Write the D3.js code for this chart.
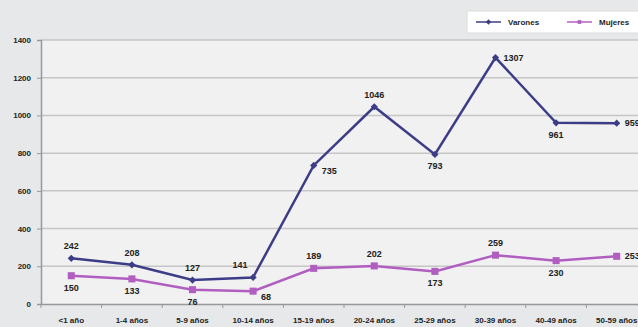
<!DOCTYPE html>
<html>
<head>
<meta charset="utf-8">
<script src="https://cdn.jsdelivr.net/npm/d3@7"></script>
<style>
  body { margin: 0; background: #e8e9ea; }
  svg text { font-family: "Liberation Sans", Arial, sans-serif; font-weight: bold; fill: #222; }
</style>
</head>
<body>
<div id="chart"></div>
<script>
// data
const categories = ["<1 año", "1-4 años", "5-9 años", "10-14 años", "15-19 años",
  "20-24 años", "25-29 años", "30-39 años", "40-49 años", "50-59 años"];
const varones = [242, 208, 127, 141, 735, 1046, 793, 1307, 961, 959];
const mujeres = [150, 133, 76, 68, 189, 202, 173, 259, 230, 253];
const yTicks = [0, 200, 400, 600, 800, 1000, 1200, 1400];
// where each label sits: a = above, la = left-above, b = below, r = right, rb = right-below
const varonesPos = ["a", "a", "a", "la", "rb", "a", "b", "r", "b", "r"];
const mujeresPos = ["b", "b", "b", "rb", "a", "a", "b", "a", "b", "r"];

const W = 638, H = 327;
const margin = { left: 41, top: 40, right: -9, bottom: 23 };
const innerW = W - margin.left - margin.right,
  innerH = H - margin.top - margin.bottom;

const svg = d3.select("#chart").append("svg")
  .attr("width", W).attr("height", H);

svg.append("rect").attr("width", W).attr("height", H).attr("fill", "#e7e8e9");

const g = svg.append("g").attr("transform", `translate(${margin.left},${margin.top})`);

g.append("rect").attr("width", innerW).attr("height", innerH).attr("fill", "#f1f1f1");

const x = d3.scaleBand().domain(categories).range([0, innerW]);
const y = d3.scaleLinear().domain([0, 1400]).range([innerH, 0]);

// gridlines
g.selectAll(".grid").data(yTicks.slice(1)).join("line")
  .attr("x1", 0).attr("x2", innerW)
  .attr("y1", d => y(d)).attr("y2", d => y(d))
  .attr("stroke", "#c6c6c6").attr("stroke-width", 1.5);

// y axis
const yAxis = g.append("g")
  .call(d3.axisLeft(y).tickValues(yTicks).tickFormat(d3.format("d")).tickSize(4).tickPadding(6));
yAxis.select(".domain").attr("stroke", "#999").attr("stroke-width", 1.5);
yAxis.selectAll(".tick line").attr("stroke", "#999");
yAxis.selectAll("text").style("font-size", "8px");

// x axis, ticks on the category boundaries
const xAxis = g.append("g").attr("transform", `translate(0,${innerH})`)
  .call(d3.axisBottom(x).tickSize(0).tickPadding(13));
xAxis.select(".domain").attr("stroke", "#999").attr("stroke-width", 1.5);
xAxis.selectAll("text").style("font-size", "8px");
g.selectAll(".xtick").data(categories).join("line")
  .attr("x1", d => x(d)).attr("x2", d => x(d))
  .attr("y1", innerH).attr("y2", innerH + 4)
  .attr("stroke", "#999");

const cx = d => x(d) + x.bandwidth() / 2;

const line = d3.line()
  .x((d, i) => cx(categories[i]))
  .y(d => y(d));

function drawSeries(values, color, rotate, symSize, pos) {
  g.append("path").datum(values)
    .attr("fill", "none").attr("stroke", color)
    .attr("stroke-width", 2.5).attr("d", line);

  g.selectAll(null).data(values).join("path")
    .attr("transform", (d, i) => `translate(${cx(categories[i])},${y(d)}) rotate(${rotate})`)
    .attr("d", d3.symbol().type(d3.symbolSquare).size(symSize))
    .attr("fill", color);

  g.selectAll(null).data(values).join("text")
    .attr("x", (d, i) => {
      const p = pos[i];
      if (p === "r" || p === "rb") return cx(categories[i]) + 8;
      if (p === "la") return cx(categories[i]) - 13;
      return cx(categories[i]);
    })
    .attr("y", (d, i) => {
      const p = pos[i];
      const base = y(d);
      if (p === "a" || p === "la") return base - 9;
      if (p === "b") return base + 15;
      if (p === "rb") return base + 9;
      return base + 3;
    })
    .attr("text-anchor", (d, i) => (pos[i] === "r" || pos[i] === "rb") ? "start" : "middle")
    .style("font-size", "9px")
    .text(d => d);
}

drawSeries(varones, "#3c3d86", 45, 26, varonesPos);
drawSeries(mujeres, "#b05fc0", 0, 50, mujeresPos);

// legend
const legend = svg.append("g");
legend.append("rect")
  .attr("x", 467).attr("y", 11).attr("width", 180).attr("height", 22)
  .attr("fill", "#ffffff").attr("stroke", "#dcdcdc");
const legendItems = [
  { name: "Varones", color: "#3c3d86", rotate: 45, size: 14, x: 476 },
  { name: "Mujeres", color: "#b05fc0", rotate: 0, size: 14, x: 567 }
];
legendItems.forEach(it => {
  legend.append("line")
    .attr("x1", it.x).attr("x2", it.x + 25).attr("y1", 22).attr("y2", 22)
    .attr("stroke", it.color).attr("stroke-width", 1.5);
  legend.append("path")
    .attr("transform", `translate(${it.x + 12.5},22) rotate(${it.rotate})`)
    .attr("d", d3.symbol().type(d3.symbolSquare).size(it.size))
    .attr("fill", it.color);
  legend.append("text")
    .attr("x", it.x + 32).attr("y", 25)
    .style("font-size", "8px")
    .text(it.name);
});
</script>
</body>
</html>
